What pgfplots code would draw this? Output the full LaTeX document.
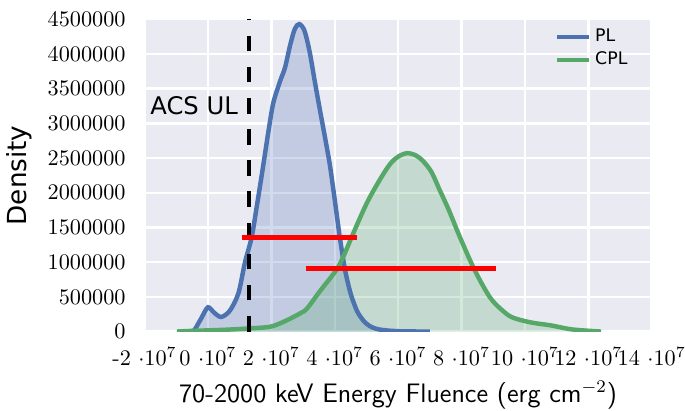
\documentclass[border=0pt]{standalone}
\usepackage{fontspec}
\usepackage{pgfplots}
\pgfplotsset{compat=1.18}
\newfontfamily\dejavu{DejaVu Sans}
\definecolor{plblue}{HTML}{4C72B0}
\definecolor{cplgreen}{HTML}{55A868}
\definecolor{sbbg}{HTML}{EAEAF2}

\begin{document}
\begin{tikzpicture}
\begin{axis}[
  scale only axis, width=228pt, height=140.4pt,
  xmin=-2, xmax=14, ymin=0, ymax=4500000,
  axis background/.style={fill=sbbg},
  axis line style={draw=none},
  major tick length=0pt,
  grid=major, grid style={white, line width=1.1pt},
  xtick={-2,0,2,4,6,8,10,12,14},
  xticklabels={{-2 $\cdot 10^{7}$},{0 $\cdot 10^{7}$},{2 $\cdot 10^{7}$},{4 $\cdot 10^{7}$},{6 $\cdot 10^{7}$},{8 $\cdot 10^{7}$},{10 $\cdot 10^{7}$},{12 $\cdot 10^{7}$},{14 $\cdot 10^{7}$}},
  ytick={0,500000,1000000,1500000,2000000,2500000,3000000,3500000,4000000,4500000},
  scaled y ticks=false,
  yticklabel style={/pgf/number format/fixed, /pgf/number format/1000 sep={}, xshift=-5pt},
  xticklabel style={yshift=-3.5pt},
  xlabel={\sffamily\large 70-2000 keV Energy Fluence (erg cm$^{-2}$)},
  ylabel={\dejavu\fontsize{11.8}{14}\selectfont Density},
  legend style={draw=none, fill=none, at={(0.975,0.995)}, anchor=north east,
    font=\dejavu\fontsize{7.8}{9}\selectfont, nodes={inner ysep=1.5pt}},
  legend cell align=left,
  legend image code/.code={\draw[#1, line width=2pt] (0pt,0pt) -- (14pt,0pt);},
]
% filled areas
\addplot[draw=none, fill=plblue, fill opacity=0.25, smooth, forget plot] coordinates {
(-0.48,0)(-0.4,0.04e6)(-0.2,0.2e6)(0,0.35e6)(0.2,0.27e6)(0.42,0.21e6)(0.69,0.3e6)(0.96,0.55e6)
(1.17,1.0e6)(1.38,1.36e6)(1.54,1.8e6)(1.74,2.38e6)(1.9,2.86e6)(2.06,3.29e6)(2.27,3.6e6)
(2.43,3.8e6)(2.59,4.12e6)(2.74,4.36e6)(2.88,4.43e6)(3.04,4.34e6)(3.2,4.05e6)(3.38,3.58e6)
(3.55,3.15e6)(3.7,2.78e6)(3.85,2.39e6)(4.0,1.9e6)(4.16,1.36e6)(4.32,0.9e6)(4.5,0.55e6)
(4.7,0.3e6)(4.9,0.16e6)(5.1,0.08e6)(5.4,0.03e6)(6.0,0.005e6)(7.0,0)} \closedcycle;
\addplot[draw=none, fill=cplgreen, fill opacity=0.25, smooth, forget plot] coordinates {
(-0.98,0)(-0.5,0.01e6)(0.5,0.025e6)(1.3,0.045e6)(1.8,0.06e6)(2.06,0.08e6)(2.48,0.16e6)
(2.9,0.26e6)(3.12,0.33e6)(3.53,0.58e6)(4.07,0.9e6)(4.32,1.13e6)(4.57,1.4e6)(5.0,1.84e6)
(5.4,2.17e6)(5.74,2.41e6)(6.0,2.52e6)(6.28,2.57e6)(6.55,2.54e6)(6.78,2.46e6)(7.05,2.3e6)
(7.32,2.03e6)(7.6,1.75e6)(7.95,1.36e6)(8.42,0.88e6)(8.9,0.49e6)(9.3,0.3e6)(9.62,0.2e6)
(10.2,0.13e6)(10.8,0.09e6)(11.5,0.03e6)(12.4,0)} \closedcycle;
% curves
\addplot[plblue, line width=2pt, smooth] coordinates {
(-0.48,0)(-0.4,0.04e6)(-0.2,0.2e6)(0,0.35e6)(0.2,0.27e6)(0.42,0.21e6)(0.69,0.3e6)(0.96,0.55e6)
(1.17,1.0e6)(1.38,1.36e6)(1.54,1.8e6)(1.74,2.38e6)(1.9,2.86e6)(2.06,3.29e6)(2.27,3.6e6)
(2.43,3.8e6)(2.59,4.12e6)(2.74,4.36e6)(2.88,4.43e6)(3.04,4.34e6)(3.2,4.05e6)(3.38,3.58e6)
(3.55,3.15e6)(3.7,2.78e6)(3.85,2.39e6)(4.0,1.9e6)(4.16,1.36e6)(4.32,0.9e6)(4.5,0.55e6)
(4.7,0.3e6)(4.9,0.16e6)(5.1,0.08e6)(5.4,0.03e6)(6.0,0.005e6)(7.0,0)};
\addlegendentry{PL}
\addplot[cplgreen, line width=2pt, smooth] coordinates {
(-0.98,0)(-0.5,0.01e6)(0.5,0.025e6)(1.3,0.045e6)(1.8,0.06e6)(2.06,0.08e6)(2.48,0.16e6)
(2.9,0.26e6)(3.12,0.33e6)(3.53,0.58e6)(4.07,0.9e6)(4.32,1.13e6)(4.57,1.4e6)(5.0,1.84e6)
(5.4,2.17e6)(5.74,2.41e6)(6.0,2.52e6)(6.28,2.57e6)(6.55,2.54e6)(6.78,2.46e6)(7.05,2.3e6)
(7.32,2.03e6)(7.6,1.75e6)(7.95,1.36e6)(8.42,0.88e6)(8.9,0.49e6)(9.3,0.3e6)(9.62,0.2e6)
(10.2,0.13e6)(10.8,0.09e6)(11.5,0.03e6)(12.4,0)};
\addlegendentry{CPL}
% ACS upper limit
\addplot[black, line width=2pt, dash pattern=on 7pt off 7pt, forget plot] coordinates {(1.29,0)(1.29,4500000)};
% intervals
\addplot[red, line width=2pt, forget plot] coordinates {(1.06,1.357e6)(4.69,1.357e6)};
\addplot[red, line width=2pt, forget plot] coordinates {(3.10,0.906e6)(9.08,0.906e6)};
\node[anchor=base west, inner sep=0pt, font=\dejavu\fontsize{10.9}{13}\selectfont] at (axis cs:-1.83,3.13e6) {ACS UL};
% frame of the whole picture, same margins as the reference
\coordinate (bbll) at (axis cs:-6.56,-1.137e6);
\coordinate (bbur) at (axis cs:15.05,4.777e6);
\end{axis}
\pgfresetboundingbox
\useasboundingbox (bbll) rectangle (bbur);
\end{tikzpicture}
\end{document}
